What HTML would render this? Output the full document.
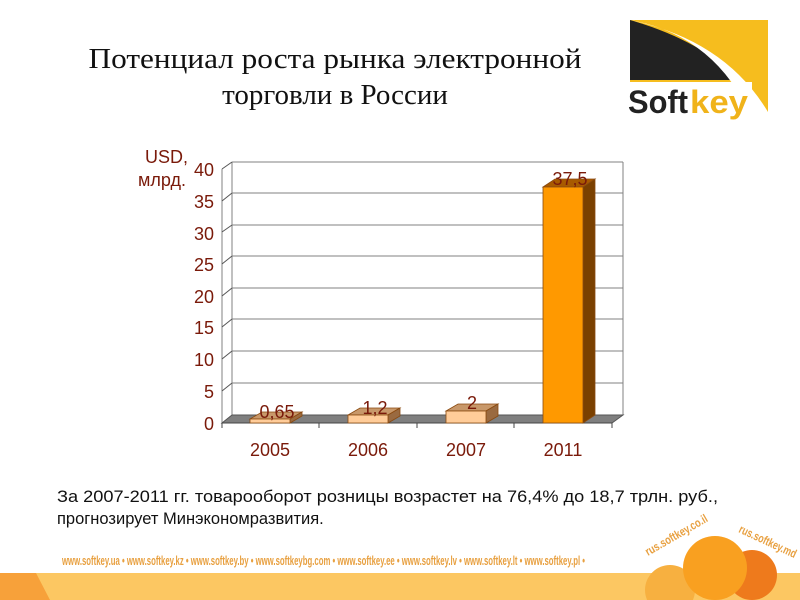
<!DOCTYPE html>
<html><head><meta charset="utf-8"><style>
html,body{margin:0;padding:0;background:#fff;}
svg{display:block;}
</style></head><body>
<svg width="800" height="600" viewBox="0 0 800 600" xmlns="http://www.w3.org/2000/svg">
<rect width="800" height="600" fill="#fff"/>
<!-- title -->
<text x="335" y="68" font-family="Liberation Serif, serif" font-size="29" text-anchor="middle" textLength="493" lengthAdjust="spacingAndGlyphs" fill="#111">Потенциал роста рынка электронной</text>
<text x="335" y="104" font-family="Liberation Serif, serif" font-size="29" text-anchor="middle" fill="#111">торговли в России</text>
<!-- logo -->
<rect x="630" y="20" width="138" height="98" fill="#f6bd1e"/>
<path d="M630,20 L630,80 L740,80 Q 700,40 630,20 Z" fill="#222"/>
<path d="M630,20 Q 715,35 752,118 L768,118 L768,112 Q 725,40 630,20 Z" fill="#fff"/>
<rect x="626" y="82" width="126" height="36" fill="#fff"/>
<text x="628" y="113" font-family="Liberation Sans, sans-serif" font-weight="bold" font-size="32" fill="#222" textLength="60" lengthAdjust="spacingAndGlyphs">Soft</text>
<text x="690" y="113" font-family="Liberation Sans, sans-serif" font-weight="bold" font-size="32" fill="#f0b31a" textLength="58" lengthAdjust="spacingAndGlyphs">key</text>
<!-- chart back wall grid -->
<g stroke="#808080" stroke-width="1" fill="none">
<line x1="232" y1="162" x2="623" y2="162"/>
<line x1="232" y1="193" x2="623" y2="193"/>
<line x1="232" y1="225" x2="623" y2="225"/>
<line x1="232" y1="256" x2="623" y2="256"/>
<line x1="232" y1="288" x2="623" y2="288"/>
<line x1="232" y1="319" x2="623" y2="319"/>
<line x1="232" y1="351" x2="623" y2="351"/>
<line x1="232" y1="383" x2="623" y2="383"/>
<line x1="623" y1="162" x2="623" y2="415"/>
<line x1="232" y1="162" x2="232" y2="415"/>
<line x1="222" y1="169" x2="222" y2="423"/>
</g>
<g stroke="#555" stroke-width="1">
<line x1="222" y1="169" x2="232" y2="162"/><line x1="222" y1="201" x2="232" y2="193"/>
<line x1="222" y1="232" x2="232" y2="225"/><line x1="222" y1="264" x2="232" y2="256"/>
<line x1="222" y1="296" x2="232" y2="288"/><line x1="222" y1="327" x2="232" y2="319"/>
<line x1="222" y1="359" x2="232" y2="351"/><line x1="222" y1="391" x2="232" y2="383"/>
</g>
<!-- floor -->
<polygon points="222,423 232,415 623,415 612,423" fill="#7f7f7f" stroke="#555"/>
<line x1="222" y1="423" x2="612" y2="423" stroke="#444"/>
<g stroke="#444"><line x1="222" y1="423" x2="222" y2="428"/><line x1="319" y1="423" x2="319" y2="428"/><line x1="417" y1="423" x2="417" y2="428"/><line x1="514" y1="423" x2="514" y2="428"/><line x1="612" y1="423" x2="612" y2="428"/></g>
<!-- bars -->
<g stroke="#8a4a10" stroke-width="0.8">
<polygon points="250,419 262,412 302,412 290,419" fill="#c8986a"/>
<polygon points="290,419 302,412 302,416 290,423" fill="#9a6a40"/>
<rect x="250" y="419" width="40" height="4" fill="#ffcc99"/>
<polygon points="348,415 360,408 400,408 388,415" fill="#c8986a"/>
<polygon points="388,415 400,408 400,416 388,423" fill="#9a6a40"/>
<rect x="348" y="415" width="40" height="8" fill="#ffcc99"/>
<polygon points="446,411 458,404 498,404 486,411" fill="#c8986a"/>
<polygon points="486,411 498,404 498,416 486,423" fill="#9a6a40"/>
<rect x="446" y="411" width="40" height="12" fill="#ffcc99"/>
<polygon points="543,187 555,179 595,179 583,187" fill="#a85a00"/>
<polygon points="583,187 595,179 595,415 583,423" fill="#7a4000"/>
<rect x="543" y="187" width="40" height="236" fill="#ff9900"/>
</g>
<!-- labels -->
<g font-family="Liberation Sans, sans-serif" font-size="18" fill="#7a1a0a">
<g text-anchor="end">
<text x="214" y="176">40</text><text x="214" y="208">35</text><text x="214" y="240">30</text>
<text x="214" y="271">25</text><text x="214" y="303">20</text><text x="214" y="334">15</text>
<text x="214" y="366">10</text><text x="214" y="398">5</text><text x="214" y="430">0</text>
</g>
<text x="145" y="163">USD,</text>
<text x="138" y="186">млрд.</text>
<g text-anchor="middle">
<text x="270" y="456">2005</text><text x="368" y="456">2006</text><text x="466" y="456">2007</text><text x="563" y="456">2011</text>
<text x="277" y="418">0,65</text><text x="375" y="414">1,2</text><text x="472" y="409">2</text><text x="570" y="185">37,5</text>
</g>
</g>
<!-- bottom text -->
<text x="57" y="502" font-family="Liberation Sans, sans-serif" font-size="16.5" fill="#111" textLength="661" lengthAdjust="spacingAndGlyphs">За 2007-2011 гг. товарооборот розницы возрастет на 76,4% до 18,7 трлн. руб.,</text>
<text x="57" y="524" font-family="Liberation Sans, sans-serif" font-size="16.5" fill="#111">прогнозирует Минэкономразвития.</text>
<!-- footer -->
<rect x="0" y="573" width="800" height="27" fill="#fcc762"/>
<polygon points="0,573 36,573 50,600 0,600" fill="#f7a13a"/>
<text x="62" y="565" font-family="Liberation Sans, sans-serif" font-weight="bold" font-size="13" fill="#e8a040" textLength="523" lengthAdjust="spacingAndGlyphs">www.softkey.ua • www.softkey.kz • www.softkey.by • www.softkeybg.com • www.softkey.ee • www.softkey.lv • www.softkey.lt • www.softkey.pl •</text>
<circle cx="670" cy="590" r="25" fill="#f7b040"/>
<circle cx="752" cy="575" r="25" fill="#ee7a1c"/>
<circle cx="715" cy="568" r="32" fill="#f9a020"/>
<text x="648" y="556" font-family="Liberation Sans, sans-serif" font-weight="bold" font-size="12" fill="#e8a040" transform="rotate(-30 648 556)" textLength="70" lengthAdjust="spacingAndGlyphs">rus.softkey.co.il</text>
<text x="738" y="532" font-family="Liberation Sans, sans-serif" font-weight="bold" font-size="12" fill="#e8a040" transform="rotate(25 738 532)" textLength="62" lengthAdjust="spacingAndGlyphs">rus.softkey.md</text>
</svg>
</body></html>
